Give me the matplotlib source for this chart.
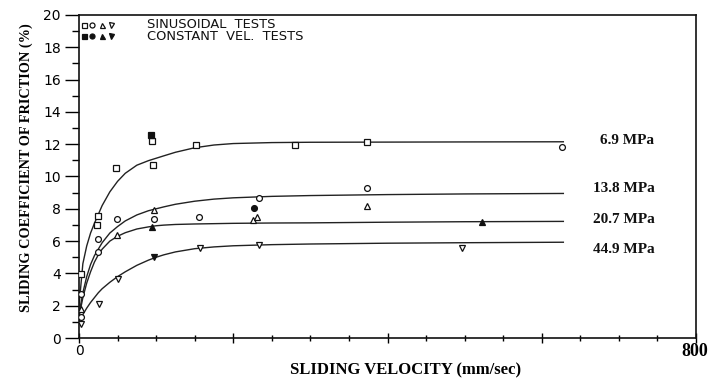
import matplotlib
matplotlib.use("Agg")
import matplotlib.pyplot as plt
from matplotlib.ticker import MultipleLocator, FixedLocator

# ---- fitted curves ----
v_grid = [0, 5, 10, 15, 20, 25, 30, 40, 50, 60, 75, 90, 100, 110, 125, 150, 175, 200, 250, 300, 400, 500, 628]
curve_69 = [2.0, 4.6, 5.7, 6.5, 7.1, 7.65, 8.2, 9.05, 9.7, 10.2, 10.7, 10.98, 11.13, 11.28, 11.5, 11.78, 11.95, 12.04, 12.1, 12.12, 12.13, 12.14, 12.15]
curve_138 = [1.5, 2.8, 3.8, 4.55, 5.1, 5.5, 5.9, 6.5, 6.9, 7.25, 7.62, 7.88, 8.0, 8.12, 8.28, 8.47, 8.6, 8.68, 8.77, 8.82, 8.88, 8.92, 8.95]
curve_207 = [1.3, 2.5, 3.4, 4.1, 4.7, 5.15, 5.5, 6.0, 6.3, 6.52, 6.75, 6.88, 6.95, 6.99, 7.03, 7.06, 7.08, 7.1, 7.12, 7.13, 7.17, 7.2, 7.22]
curve_449 = [1.0, 1.45, 1.85, 2.2, 2.5, 2.8, 3.05, 3.45, 3.8, 4.1, 4.5, 4.82, 5.0, 5.15, 5.33, 5.53, 5.64, 5.71, 5.78, 5.82, 5.87, 5.9, 5.93]
curve_labels = ["6.9 MPa", "13.8 MPa", "20.7 MPa", "44.9 MPa"]
label_y = [12.2, 9.25, 7.35, 5.45]

# ---- measured points ----
sq_open_v = [3, 23, 25, 48, 95, 96, 152, 280, 373]
sq_open_f = [3.95, 7.0, 7.58, 10.54, 12.19, 10.74, 11.98, 11.96, 12.12]
sq_fill_v = [93]
sq_fill_f = [12.6]

ci_open_v = [3, 3, 24, 25, 49, 97, 155, 233, 373, 626]
ci_open_f = [2.7, 1.3, 6.14, 5.31, 7.34, 7.38, 7.48, 8.68, 9.28, 11.8]
ci_fill_v = [227]
ci_fill_f = [8.06]

tri_open_v = [3, 49, 97, 226, 231, 373]
tri_open_f = [1.8, 6.35, 7.94, 7.3, 7.48, 8.2]
tri_fill_v = [95, 523]
tri_fill_f = [6.86, 7.21]

dtri_open_v = [3, 26, 51, 157, 233, 496]
dtri_open_f = [0.85, 2.1, 3.66, 5.58, 5.73, 5.56]
dtri_fill_v = [97]
dtri_fill_f = [5.0]

legend_texts = ["SINUSOIDAL  TESTS", "CONSTANT  VEL.  TESTS"]

fig = plt.figure(figsize=(7.12, 3.78), dpi=100)
ax = fig.add_axes([79/712, 1-338/378, (696-79)/712, (338-15)/378])

for c in (curve_69, curve_138, curve_207, curve_449):
    ax.plot(v_grid, c, color="#222222", lw=1.0)

ms = 4.2
mew = 0.9
def pts(v, f, m, filled):
    ax.plot(v, f, ls="none", marker=m, ms=ms, mew=mew, mec="#111111",
            mfc="#111111" if filled else "white", zorder=3)

pts(sq_open_v, sq_open_f, "s", False)
pts(sq_fill_v, sq_fill_f, "s", True)
pts(ci_open_v, ci_open_f, "o", False)
pts(ci_fill_v, ci_fill_f, "o", True)
pts(tri_open_v, tri_open_f, "^", False)
pts(tri_fill_v, tri_fill_f, "^", True)
pts(dtri_open_v, dtri_open_f, "v", False)
pts(dtri_fill_v, dtri_fill_f, "v", True)

for lab, y in zip(curve_labels, label_y):
    ax.text(746, y, lab, ha="right", va="center", fontsize=11,
            fontweight="bold", family="Liberation Serif", color="#111111")

# legend (manual)
mk = ["s", "o", "^", "v"]
xs = [0.0075, 0.021, 0.037, 0.052]
for row, (yy, filled) in enumerate([(0.969, False), (0.935, True)]):
    for m, x in zip(mk, xs):
        ax.plot([x], [yy], transform=ax.transAxes, marker=m, ms=3.6, mew=0.9,
                mec="#111111", mfc="#111111" if filled else "white", ls="none",
                clip_on=False)
ax.text(0.110, 0.952, "\n".join(legend_texts), transform=ax.transAxes, va="center",
        ha="left", fontsize=9.4, family="DejaVu Sans", color="#111111",
        linespacing=0.88)

ax.set_xlim(0, 800)
ax.set_ylim(0, 20)
ax.yaxis.set_major_locator(MultipleLocator(2))
ax.yaxis.set_minor_locator(MultipleLocator(1))
ax.xaxis.set_major_locator(FixedLocator([0, 200, 400, 600, 800]))
ax.xaxis.set_minor_locator(MultipleLocator(50))
ax.set_xticklabels(["0", "", "", "", ""])
ax.tick_params(axis="y", which="major", direction="out", length=10, width=1, labelsize=10, pad=3)
ax.tick_params(axis="y", which="minor", direction="out", length=5, width=1)
ax.tick_params(axis="x", which="major", direction="inout", length=7, width=1, labelsize=10, pad=1)
ax.tick_params(axis="x", which="minor", direction="inout", length=4, width=1)
for s in ax.spines.values():
    s.set_linewidth(1.2)
    s.set_color("#111111")

fig.text(695/712, 1-352/378, "800", ha="center", va="center",
         fontsize=13, fontweight="bold", family="Liberation Serif")
fig.text(406/712, 1-370/378, "SLIDING VELOCITY (mm/sec)", ha="center", va="center",
         fontsize=12, fontweight="bold", family="Liberation Serif")
fig.text(26/712, 1-168/378, "SLIDING COEFFICIENT OF FRICTION (%)", ha="center",
         va="center", rotation=90, fontsize=10.3, fontweight="bold",
         family="Liberation Serif")

fig.savefig("out.png", dpi=100, facecolor="white")
